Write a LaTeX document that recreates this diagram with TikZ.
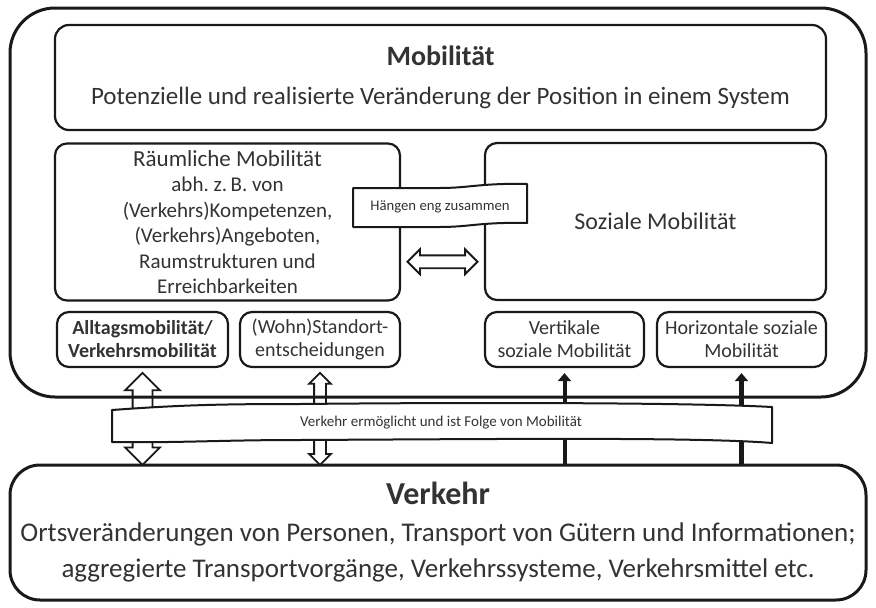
\documentclass[tikz,border=0pt]{standalone}
\usepackage{fontspec}
\setmainfont{Carlito}
\usetikzlibrary{arrows.meta,calc,shapes.arrows}
\definecolor{txt}{gray}{0.2}
\definecolor{ln}{gray}{0.1}

\begin{document}
\begin{tikzpicture}[x=1pt,y=-1pt,
  box/.style={draw=ln,rounded corners=12pt,line width=2.2pt,fill=white,
    align=center,inner sep=0pt,text=txt},
  klein/.style={box,font=\fontsize{20}{23}\selectfont},
  hohl/.style={double arrow,draw=ln,fill=white,line width=1.8pt,inner sep=0pt,
    minimum width=0pt,rotate=90,double arrow head indent=0pt},
  voll/.style={draw=ln,line width=#1,-{Triangle[width=13pt,length=8pt]},shorten >=5pt},
  band/.style={draw=ln,fill=white,line width=2pt,line join=round}]

\useasboundingbox (0,0) rectangle (876,608);

\node[box,rounded corners=14pt,minimum width=771pt,minimum height=105pt,font=\fontsize{25}{39}\selectfont] (mob) at (440.5,77.5)
  {{\fontsize{28}{39}\selectfont\bfseries Mobilität}\\
   Potenzielle und realisierte Veränderung der Position in einem System};

\node[box,minimum width=345pt,minimum height=157pt,font=\fontsize{21}{25.5}\selectfont] (raum) at (227.5,222)
  {{\fontsize{23}{25.5}\selectfont Räumliche Mobilität}\\ abh.\ z.\,B. von\\ (Verkehrs)Kompetenzen,\\ (Verkehrs)Angeboten,\\
   Raumstrukturen und\\ Erreichbarkeiten};
\node[box,minimum width=341pt,minimum height=157pt,font=\fontsize{24}{28}\selectfont] (sozial) at (655.5,221.5)
  {Soziale Mobilität};

\node[klein,minimum width=171pt,minimum height=55pt] (alltag) at (142.5,339.5)
  {\bfseries Alltagsmobilität/\\ \bfseries Verkehrsmobilität};
\node[klein,minimum width=160pt,minimum height=55pt] (wohn) at (320,339.5)
  {(Wohn)Standort-\\ entscheidungen};
\node[klein,minimum width=159pt,minimum height=55pt] (vert) at (564.5,339.5)
  {Vertikale\\ soziale Mobilität};
\node[klein,minimum width=169pt,minimum height=55pt] (horiz) at (741.5,339.5)
  {Horizontale soziale\\ Mobilität};

\node[box,rounded corners=30pt,line width=3pt,minimum width=856pt,minimum height=135pt,font=\fontsize{27}{36.5}\selectfont] (verkehr) at (438,532.5)
  {{\fontsize{32}{38}\selectfont\bfseries Verkehr}\\
   Ortsveränderungen\ von Personen, Transport von Gütern und Informationen;\\
   aggregierte Transportvorgänge, Verkehrssysteme, Verkehrsmittel etc.};

\node[double arrow,draw=ln,fill=white,line width=1.8pt,inner sep=0pt,double arrow head indent=0pt,
  minimum width=0pt,double arrow head extend=6pt,minimum height=70pt] (pfeil) at ($(raum.east)!0.5!(sozial.west)+(0,40)$) {\rule{0pt}{11pt}};

\node[hohl,double arrow head extend=7.5pt,minimum height=92pt]
  (p1) at ($(alltag.south)!0.5!(alltag.south|-verkehr.north)+(0,3)$) {\rule{0pt}{18pt}};
\node[hohl,double arrow head extend=5pt,minimum height=92pt]
  (p2) at ($(wohn.south)!0.5!(wohn.south|-verkehr.north)+(0,3)$) {\rule{0pt}{10pt}};
\draw[voll=4pt] (vert.south|-verkehr.north) -- (vert.south);
\draw[voll=5pt] (horiz.south|-verkehr.north) -- (horiz.south);

\draw[ln,line width=3pt,rounded corners=45pt] (10,8) rectangle (866,397);

\draw[band] (353,188) -- (440,188) .. controls (470,188) and (480,183) .. (527,184)
  -- (527,223) .. controls (480,222) and (470,227) .. (440,227) -- (353,227) -- cycle;
\node[text=txt,font=\fontsize{14.7}{17}\selectfont] (eng) at (440,207) {Hängen eng zusammen};

\draw[band] (112,410) .. controls (180,405) and (220,404) .. (300,404)
  .. controls (500,402) and (700,403) .. (772,407) -- (772,443)
  .. controls (700,437) and (500,439) .. (300,440)
  .. controls (220,440) and (180,443) .. (112,442) -- cycle;
\node[text=txt,font=\fontsize{15}{17}\selectfont] (folge) at (441,423) {Verkehr ermöglicht und ist Folge von Mobilität};

\end{tikzpicture}
\end{document}
